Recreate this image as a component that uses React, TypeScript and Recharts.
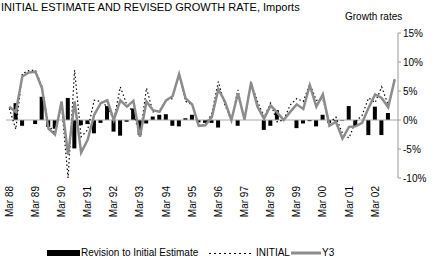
import React from 'react';
import { ComposedChart, Bar, Line, XAxis, YAxis, ReferenceLine, Legend } from 'recharts';

const YEARS = ['88', '89', '90', '91', '92', '93', '94', '95', '96', '97', '98', '99', '00', '01', '02'];
const MONTHS = ['Mar', 'Jun', 'Sep', 'Dec'];
const quarters = YEARS.flatMap((y) => MONTHS.map((m) => `${m} ${y}`));

const revision = [
  0, 2.9, -1.0, 0, -0.7, 4.0, -1.2, -1.5, 0, 3.8,
  -4.9, -0.9, -0.7, -2.3, -0.5, 2.4, -2.0, -2.7, -0.3, 2.0,
  -2.6, -0.6, 0.6, 0.9, 1.0, -1.0, -1.1, 0.3, 0.9, -0.4,
  -0.5, -0.5, -1.3, 0, 0, -1.0, 0, 0, 0, -1.7,
  -1.0, 1.7, 0, 0, -1.4, -0.6, -0.2, -1.1, 0.9, -0.5,
  -0.2, -0.1, 2.4, -1.1, 0, -2.6, 2.3, -2.6, 1.2, 0,
];

const initial = [
  2.0, -1.6, 8.0, 8.5, 8.6, 5.8, -0.9, -2.3, 2.6, -10.0,
  8.6, -2.9, -1.7, 3.4, 3.2, 2.3, 0, 5.7, 2.6, 1.4,
  -2.9, 5.5, 1.4, 1.7, 3.4, 3.7, 8.0, 3.2, 2.6, -0.9,
  -0.9, 1.1, 6.6, 2.6, 0, 5.2, 0, 6.4, 3.2, 0.5,
  2.9, -0.3, 0, 2.6, 3.7, 3.2, 6.2, 3.4, 3.6, -0.5,
  0.5, -2.3, -3.1, -0.3, 0.8, 3.8, 3.0, 5.7, 2.6, 7.0,
];

const y3 = [
  2.3, 1.4, 7.5, 8.2, 8.3, 5.5, -1.5, -2.5, 3.2, -6.0,
  3.2, -5.6, -3.4, 0.9, 2.9, 3.4, 0.0, 3.4, 2.3, 3.3,
  -2.9, 3.2, 1.7, 1.4, 3.4, 4.1, 7.9, 3.7, 2.7, -1.0,
  -0.9, 0.5, 5.3, 3.2, 0, 4.6, 0.1, 6.4, 2.3, 0.2,
  2.5, 1.3, 0, 1.4, 2.7, 1.9, 6.0, 2.3, 4.4, -1.0,
  -0.3, -3.2, -1.2, -1.1, -0.5, 2.1, 4.4, 3.8, 2.2, 7.0,
];

const Y_TICKS = [-10, -5, 0, 5, 10, 15];

const data = quarters.map((q, i) => ({ q, revision: revision[i], initial: initial[i], y3: y3[i] }));

const FONT = '"Liberation Sans", Arial, sans-serif';

const XTick = ({ x, y, payload }: any) => (
  <text
    x={x}
    y={y}
    transform={`rotate(-90, ${x}, ${y})`}
    textAnchor="end"
    dy="0.35em"
    fontSize={10}
    fontFamily={FONT}
    fill="#000"
  >
    {payload.value}
  </text>
);

const LegendContent = () => (
  <div style={{ position: 'relative', height: 12, fontSize: 10, fontFamily: FONT, color: '#000' }}>
    <span style={{ position: 'absolute', left: 47, top: 3, width: 33, height: 6, background: '#000' }} />
    <span style={{ position: 'absolute', left: 81, top: 0, lineHeight: '12px' }}>Revision to Initial Estimate</span>
    <svg style={{ position: 'absolute', left: 209, top: 0 }} width={44} height={12}>
      <line x1={0} y1={6.5} x2={44} y2={6.5} stroke="#000" strokeWidth={1} strokeDasharray="2 3" />
    </svg>
    <span style={{ position: 'absolute', left: 256, top: 0, lineHeight: '12px' }}>INITIAL</span>
    <svg style={{ position: 'absolute', left: 291, top: 0 }} width={30} height={12}>
      <line x1={0} y1={6} x2={30} y2={6} stroke="#8c8c8c" strokeWidth={3} />
    </svg>
    <span style={{ position: 'absolute', left: 322, top: 0, lineHeight: '12px' }}>Y3</span>
  </div>
);

export default function App() {
  return (
    <div style={{ position: 'absolute', left: 0, top: 0, width: 447, height: 261, background: '#fff', fontFamily: FONT }}>
      <div style={{ position: 'absolute', left: 1, top: 1, fontSize: 11, lineHeight: '13px', color: '#000' }}>
        INITIAL ESTIMATE AND REVISED GROWTH RATE, Imports
      </div>
      <div style={{ position: 'absolute', left: 345, top: 11, fontSize: 10, lineHeight: '12px', color: '#000' }}>
        Growth rates
      </div>
      <ComposedChart
        width={447}
        height={261}
        data={data}
        margin={{ top: 33, right: 0, left: 6, bottom: 2 }}
        barSize={4}
      >
        <XAxis
          dataKey="q"
          interval={3}
          axisLine={false}
          tickLine={false}
          tickSize={6}
          tickMargin={2}
          height={69}
          tick={<XTick />}
        />
        <YAxis
          orientation="right"
          width={49}
          domain={[-10, 15]}
          ticks={Y_TICKS}
          allowDataOverflow
          tickFormatter={(v: number) => `${v}%`}
          axisLine={{ stroke: '#999' }}
          tickLine={{ stroke: '#999' }}
          tickSize={3}
          tickMargin={2}
          tick={{ fontSize: 10, fill: '#000', fontFamily: FONT, textAnchor: 'start' }}
        />
        <ReferenceLine y={0} stroke="#aaa" strokeWidth={1} />
        <Bar dataKey="revision" name="Revision to Initial Estimate" fill="#000" isAnimationActive={false} />
        <Line
          dataKey="initial"
          name="INITIAL"
          stroke="#000"
          strokeWidth={1.2}
          strokeDasharray="1.5 2.5"
          dot={false}
          type="linear"
          isAnimationActive={false}
        />
        <Line
          dataKey="y3"
          name="Y3"
          stroke="#8c8c8c"
          strokeWidth={2.5}
          dot={false}
          type="linear"
          isAnimationActive={false}
        />
        <Legend verticalAlign="bottom" content={<LegendContent />} wrapperStyle={{ height: 12, left: 0, width: 447 }} />
      </ComposedChart>
    </div>
  );
}
